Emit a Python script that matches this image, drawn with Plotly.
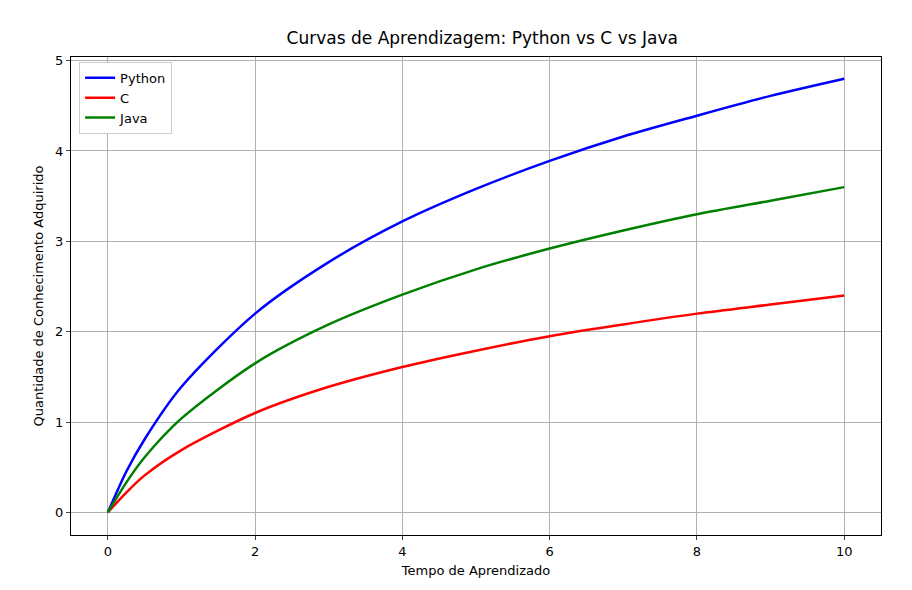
import plotly.graph_objects as go

tempo = [0, 0.25, 0.5, 1, 2, 3, 4, 5, 6, 7, 8, 9, 10]
python_vals = [0, 0.45, 0.81, 1.39, 2.20, 2.77, 3.22, 3.58, 3.89, 4.16, 4.39, 4.61, 4.80]
c_vals = [0, 0.22, 0.41, 0.69, 1.10, 1.39, 1.61, 1.79, 1.95, 2.08, 2.20, 2.30, 2.40]
java_vals = [0, 0.33, 0.61, 1.04, 1.65, 2.08, 2.41, 2.69, 2.92, 3.12, 3.30, 3.45, 3.60]

fig = go.Figure()
for nome, vals, cor in [("Python", python_vals, "blue"), ("C", c_vals, "red"), ("Java", java_vals, "green")]:
    fig.add_trace(go.Scatter(x=tempo, y=vals, mode="lines", name=nome,
                             line=dict(color=cor, width=2.5, shape="spline", smoothing=0.8)))

eixo = dict(showgrid=True, gridcolor="#b0b0b0", gridwidth=1, zeroline=False,
            showline=True, linecolor="black", mirror=True, ticks="outside",
            ticklen=4, tickfont=dict(size=13, color="black"))

fig.update_layout(
    width=912, height=590,
    title=dict(text="Curvas de Aprendizagem: Python vs C vs Java", x=0.52, y=0.96,
               font=dict(size=17, color="black")),
    font=dict(family="DejaVu Sans", color="black"),
    plot_bgcolor="white", paper_bgcolor="white",
    margin=dict(l=63, r=39, t=49, b=63),
    xaxis=dict(eixo, range=[-0.5, 10.5], dtick=2,
               title=dict(text="Tempo de Aprendizado", font=dict(size=13), standoff=8)),
    yaxis=dict(eixo, range=[-0.25, 5.04], dtick=1,
               title=dict(text="Quantidade de Conhecimento Adquirido", font=dict(size=13), standoff=8)),
    legend=dict(x=0.01, y=0.99, xanchor="left", yanchor="top", bgcolor="white",
                bordercolor="#cccccc", borderwidth=1, font=dict(size=13)),
)

fig.write_html("out.html")
